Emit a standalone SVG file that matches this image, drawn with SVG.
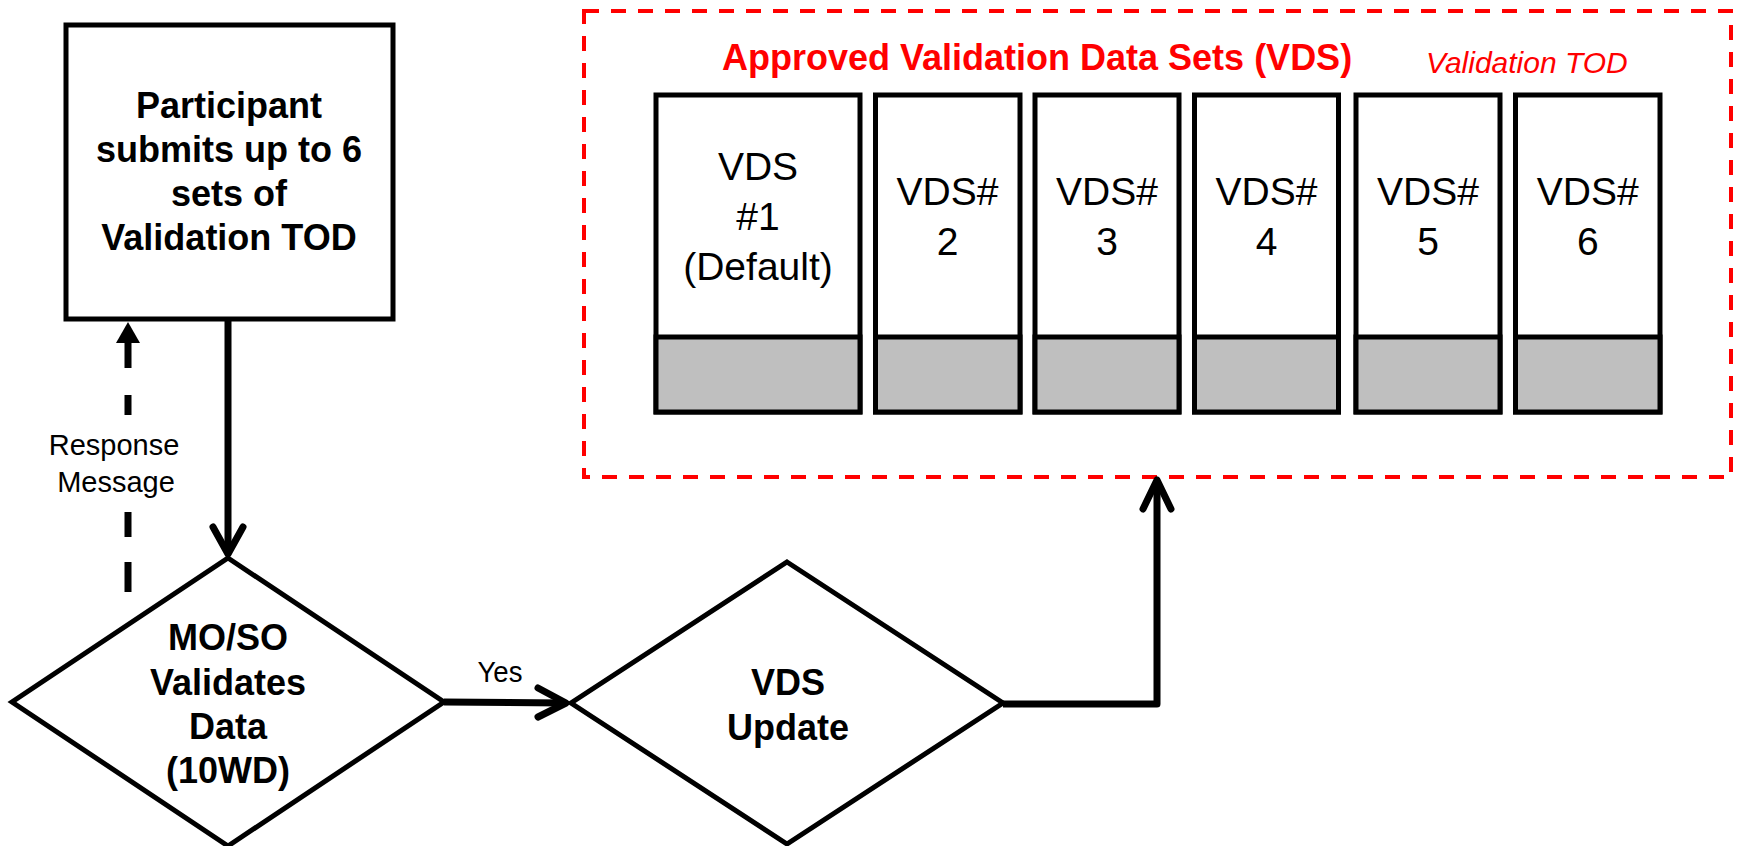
<svg xmlns="http://www.w3.org/2000/svg" width="1737" height="846" viewBox="0 0 1737 846">
<style>
  .shape { fill: #ffffff; stroke: #000000; stroke-width: 5; stroke-linejoin: miter; }
  .gray { fill: #BFBFBF; stroke: #000000; stroke-width: 5; }
  .bold { font-family: "Liberation Sans", Arial, sans-serif; font-weight: bold; font-size: 36px; fill: #000000; text-anchor: middle; }
  .vds { font-family: "Liberation Sans", Arial, sans-serif; font-size: 39px; fill: #000000; text-anchor: middle; }
  .label { font-family: "Liberation Sans", Arial, sans-serif; font-size: 29px; fill: #000000; text-anchor: middle; }
  .line { fill: none; stroke: #000000; stroke-width: 7; }
  .chev { fill: none; stroke: #000000; stroke-width: 7; stroke-linecap: round; stroke-linejoin: round; }
  .red-title { font-family: "Liberation Sans", Arial, sans-serif; font-weight: bold; font-size: 36px; fill: #FF0000; }
  .red-italic { font-family: "Liberation Sans", Arial, sans-serif; font-style: italic; font-size: 30px; fill: #FF0000; }
</style>
<rect x="0" y="0" width="1737" height="846" fill="#ffffff"/>

<g id="vds-container">
  <rect x="584" y="11" width="1147" height="466" fill="none" stroke="#FF0000" stroke-width="4" stroke-dasharray="15 12"/>
  <text class="red-title" x="722" y="70">Approved Validation Data Sets (VDS)</text>
  <text class="red-italic" x="1426" y="73">Validation TOD</text>
</g>

<g id="participant">
  <rect class="shape" x="66" y="25" width="327" height="294"/>
  <text class="bold" x="229" y="118">Participant</text>
  <text class="bold" x="229" y="162">submits up to 6</text>
  <text class="bold" x="229" y="206">sets of</text>
  <text class="bold" x="229" y="250">Validation TOD</text>
</g>

<g id="validate">
  <polygon class="shape" points="228,558 444,702 228,846 12,702"/>
  <text class="bold" x="228" y="650">MO/SO</text>
  <text class="bold" x="228" y="695">Validates</text>
  <text class="bold" x="228" y="739">Data</text>
  <text class="bold" x="228" y="783">(10WD)</text>
</g>

<g id="vds-update">
  <polygon class="shape" points="787,562 1003,703 787,844 571,703"/>
  <text class="bold" x="788" y="695">VDS</text>
  <text class="bold" x="788" y="740">Update</text>
</g>

<g id="vds1">
  <rect class="shape" x="656" y="95" width="204" height="317"/>
  <rect class="gray" x="656" y="337" width="204" height="75"/>
  <text class="vds" x="758" y="180">VDS</text>
  <text class="vds" x="758" y="230">#1</text>
  <text class="vds" x="758" y="280">(Default)</text>
</g>
<g id="vds2">
  <rect class="shape" x="875.5" y="95" width="144.5" height="317"/>
  <rect class="gray" x="875.5" y="337" width="144.5" height="75"/>
  <text class="vds" x="947.5" y="205">VDS#</text>
  <text class="vds" x="947.5" y="255">2</text>
</g>
<g id="vds3">
  <rect class="shape" x="1035" y="95" width="144" height="317"/>
  <rect class="gray" x="1035" y="337" width="144" height="75"/>
  <text class="vds" x="1107" y="205">VDS#</text>
  <text class="vds" x="1107" y="255">3</text>
</g>
<g id="vds4">
  <rect class="shape" x="1194.5" y="95" width="144" height="317"/>
  <rect class="gray" x="1194.5" y="337" width="144" height="75"/>
  <text class="vds" x="1266.5" y="205">VDS#</text>
  <text class="vds" x="1266.5" y="255">4</text>
</g>
<g id="vds5">
  <rect class="shape" x="1356" y="95" width="144" height="317"/>
  <rect class="gray" x="1356" y="337" width="144" height="75"/>
  <text class="vds" x="1428" y="205">VDS#</text>
  <text class="vds" x="1428" y="255">5</text>
</g>
<g id="vds6">
  <rect class="shape" x="1515.5" y="95" width="144.5" height="317"/>
  <rect class="gray" x="1515.5" y="337" width="144.5" height="75"/>
  <text class="vds" x="1587.75" y="205">VDS#</text>
  <text class="vds" x="1587.75" y="255">6</text>
</g>

<g id="connectors">
  <!-- participant -> validate -->
  <path class="line" d="M228 321 L228 552"/>
  <path class="chev" d="M213 527 L228 554 L243 527"/>
  <!-- response message (dashed, up) -->
  <path class="line" stroke-width="8" d="M128 592 L128 562 M128 537 L128 512 M128 415 L128 395 M128 368 L128 338"/>
  <polygon points="128,322 140,343 116,343" fill="#000000"/>
  <text class="label" x="114" y="455">Response</text>
  <text class="label" x="116" y="492">Message</text>
  <!-- yes -->
  <path class="line" d="M444 702 L564 703"/>
  <path class="chev" d="M538 688 L566 703 L538 717"/>
  <text class="label" x="500" y="682" font-size="27" textLength="45" lengthAdjust="spacingAndGlyphs">Yes</text>
  <!-- vds update -> container -->
  <path class="line" stroke-linejoin="round" d="M1003 704 L1157 704 L1157 482"/>
  <path class="chev" d="M1143 509 L1157 480 L1171 509"/>
</g>
</svg>
